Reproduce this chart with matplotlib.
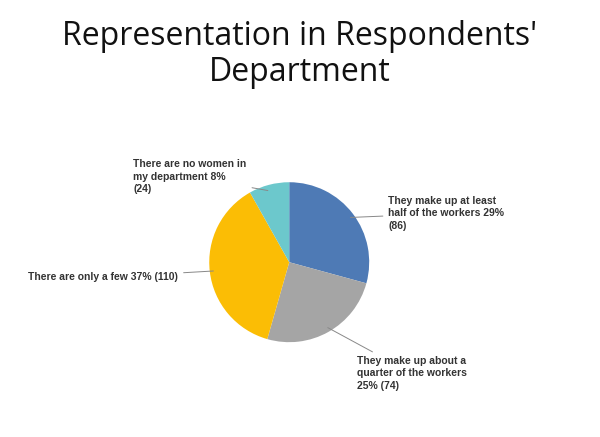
import numpy as np
import matplotlib.pyplot as plt

labels = ["They make up at least\nhalf of the workers 29%\n(86)",
          "They make up about a\nquarter of the workers\n25% (74)",
          "There are only a few 37% (110)",
          "There are no women in\nmy department 8%\n(24)"]
values = [86, 74, 110, 24]
colors = ["#4e7ab5", "#a5a5a5", "#fbbd05", "#6cc8cc"]

fig = plt.figure(figsize=(6, 4.37), dpi=100)
fig.text(0.5, 0.955, "Representation in Respondents'\nDepartment", ha="center", va="top",
         fontsize=23, family="Open Sans", color="#111111", linespacing=1.15)

ax = fig.add_axes([0.482 - 0.1333, 0.40 - 0.183, 0.2667, 0.366])
wedges, _ = ax.pie(values, colors=colors, startangle=90, counterclock=False)
ax.set_aspect("equal")
ax.set_xlim(-1, 1)
ax.set_ylim(-1, 1)

# text positions in pie units (radius = 1)
text_pos = [(1.24, 0.61), (0.85, -1.39), (-1.39, -0.19), (-1.95, 1.07)]
aligns = ["left", "left", "right", "left"]
for w, lab, pos, ha in zip(wedges, labels, text_pos, aligns):
    ang = np.deg2rad((w.theta1 + w.theta2) / 2)
    xy = (0.92 * np.cos(ang), 0.92 * np.sin(ang))
    ax.annotate(lab, xy=xy, xytext=pos, ha=ha, va="center", fontsize=7.5,
                fontweight="bold", family="Liberation Sans", color="#333333",
                annotation_clip=False, linespacing=1.3,
                arrowprops=dict(arrowstyle="-", color="#888888", lw=0.7))

fig.savefig("out.png", dpi=100)
